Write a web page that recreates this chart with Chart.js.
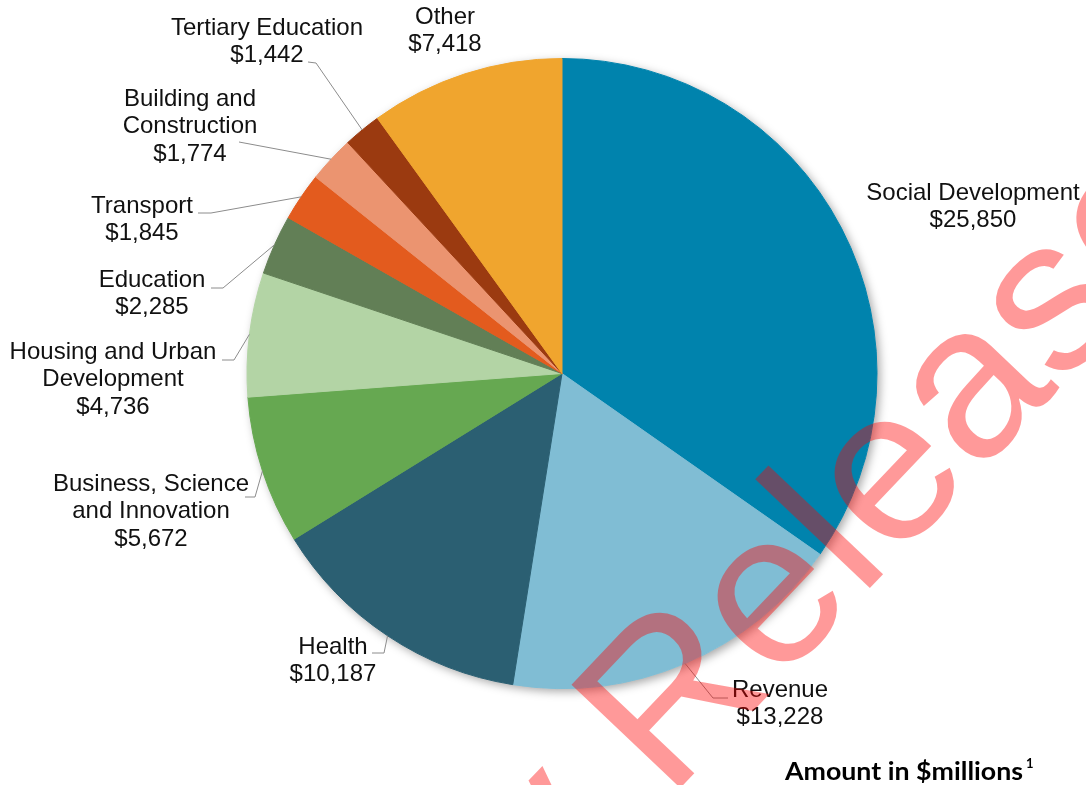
<!DOCTYPE html>
<html>
<head>
<meta charset="utf-8">
<script src="https://cdn.jsdelivr.net/npm/chart.js@4"></script>
<style>
  html, body { margin: 0; padding: 0; background: #fff; }
</style>
</head>
<body>
<canvas id="myChart" width="1086" height="785"></canvas>
<script>
// data, clockwise from 12 o'clock
const categories = [
  'Social Development',
  'Revenue',
  'Health',
  'Business, Science and Innovation',
  'Housing and Urban Development',
  'Education',
  'Transport',
  'Building and Construction',
  'Tertiary Education',
  'Other',
];
const amounts = [25850, 13228, 10187, 5672, 4736, 2285, 1845, 1774, 1442, 7418];

// how each name is broken over lines in the picture
const labelLines = [
  ['Social Development'],
  ['Revenue'],
  ['Health'],
  ['Business, Science', 'and Innovation'],
  ['Housing and Urban', 'Development'],
  ['Education'],
  ['Transport'],
  ['Building and', 'Construction'],
  ['Tertiary Education'],
  ['Other'],
];

const sliceColors = [
  '#0083ad', '#80bdd4', '#2b5f72', '#66a851', '#b3d4a5',
  '#627f56', '#e35b1e', '#eb9470', '#9b3a10', '#f0a52e',
];

// label placement: centre x, middle of first line, leader points before the slice
const labelLayout = [
  { x: 973, y: 193, lead: null },
  { x: 780, y: 690, lead: [[728, 698], [713, 698]] },
  { x: 333, y: 647, lead: [[372, 653], [384, 653]] },
  { x: 151, y: 484, lead: [[245, 497], [255, 497]] },
  { x: 113, y: 352, lead: [[222, 360], [234, 360]] },
  { x: 152, y: 280, lead: [[211, 288], [223, 288]] },
  { x: 142, y: 206, lead: [[198, 213], [211, 213]] },
  { x: 190, y: 99, lead: [[239, 142]] },
  { x: 267, y: 28, lead: [[308, 62], [316, 63]] },
  { x: 445, y: 17, lead: null },
];
const lineGap = 27.5;

function money(v) {
  return '$' + v.toLocaleString('en-US');
}

// soft shadow under the pie
const pieShadow = {
  id: 'pieShadow',
  beforeDatasetsDraw(chart) {
    const arc = chart.getDatasetMeta(0).data[0];
    const p = arc.getProps(['x', 'y', 'outerRadius'], true);
    const ctx = chart.ctx;
    ctx.save();
    ctx.shadowColor = 'rgba(0,0,0,0.35)';
    ctx.shadowBlur = 10;
    ctx.shadowOffsetX = 3;
    ctx.shadowOffsetY = 3;
    ctx.fillStyle = '#fff';
    ctx.beginPath();
    ctx.arc(p.x, p.y, p.outerRadius, 0, Math.PI * 2);
    ctx.fill();
    ctx.restore();
  }
};

const pieLabels = {
  id: 'pieLabels',
  afterDatasetsDraw(chart) {
    const ctx = chart.ctx;
    const arcs = chart.getDatasetMeta(0).data;
    ctx.save();
    arcs.forEach((arc, i) => {
      const p = arc.getProps(['x', 'y', 'startAngle', 'endAngle', 'outerRadius'], true);
      const mid = (p.startAngle + p.endAngle) / 2;
      const ax = p.x + Math.cos(mid) * p.outerRadius;
      const ay = p.y + Math.sin(mid) * p.outerRadius;
      const lay = labelLayout[i];
      if (lay.lead) {
        ctx.strokeStyle = '#8c8c8c';
        ctx.lineWidth = 1;
        ctx.beginPath();
        lay.lead.forEach((pt, k) => k ? ctx.lineTo(pt[0], pt[1]) : ctx.moveTo(pt[0], pt[1]));
        ctx.lineTo(ax, ay);
        ctx.stroke();
      }
      ctx.font = '24px "Liberation Sans", Arial, sans-serif';
      ctx.fillStyle = '#111';
      ctx.textAlign = 'center';
      ctx.textBaseline = 'middle';
      const lines = labelLines[i].concat([money(amounts[i])]);
      lines.forEach((t, k) => ctx.fillText(t, lay.x, lay.y + k * lineGap));
    });

    // footnote, squeezed to the width it has in the picture
    ctx.font = 'bold 24px Lato, "Open Sans", sans-serif';
    ctx.textAlign = 'left';
    ctx.textBaseline = 'middle';
    ctx.fillStyle = '#000';
    const note = 'Amount in $millions';
    const w = ctx.measureText(note).width;
    ctx.save();
    ctx.translate(785, 772);
    ctx.scale(238 / w, 1);
    ctx.fillText(note, 0, 0);
    ctx.restore();
    ctx.font = 'bold 13px Lato, "Open Sans", sans-serif';
    ctx.fillText('1', 785 + 238 + 3, 764);
    ctx.restore();
  }
};

const watermark = {
  id: 'watermark',
  afterDraw(chart) {
    const ctx = chart.ctx;
    ctx.save();
    ctx.translate(668, 801);
    ctx.rotate(-46.5 * Math.PI / 180);
    ctx.font = '218px "Liberation Sans", Arial, sans-serif';
    ctx.fillStyle = 'rgba(255,0,0,0.4)';
    ctx.textBaseline = 'alphabetic';
    ctx.textAlign = 'right';
    ctx.fillText('Proactively ', 0, 0);
    ctx.textAlign = 'left';
    ctx.fillText('Released', 0, 0);
    ctx.restore();
  }
};

const ctx = document.getElementById('myChart').getContext('2d');
const chart = new Chart(ctx, {
  type: 'pie',
  data: {
    labels: categories,
    datasets: [{
      data: amounts,
      backgroundColor: sliceColors,
      borderColor: sliceColors,
      borderWidth: 1,
    }]
  },
  options: {
    responsive: false,
    animation: false,
    layout: { padding: { top: 58, bottom: 96, left: 246, right: 208 } },
    plugins: {
      legend: { display: false },
      tooltip: { enabled: false },
    }
  },
  plugins: [pieShadow, pieLabels, watermark]
});
</script>
</body>
</html>
